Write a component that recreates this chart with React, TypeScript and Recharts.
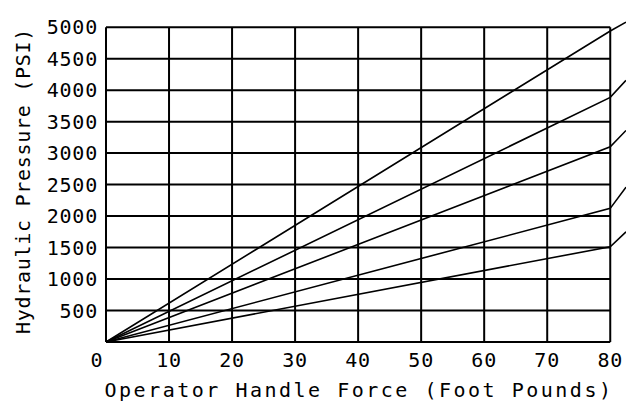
import React from 'react';
import { LineChart, Line, XAxis, YAxis, ReferenceLine } from 'recharts';

// force values where each pressure curve has a point (last one = label leader end)
const forcePoints = [0, 80, 82.5];
const curveA = [0, 4940, 5080];
const curveB = [0, 3885, 4155];
const curveC = [0, 3100, 3360];
const curveD = [0, 2122, 2460];
const curveE = [0, 1513, 1750];

const forceTicks = [0, 10, 20, 30, 40, 50, 60, 70, 80];
const pressureTicks = [500, 1000, 1500, 2000, 2500, 3000, 3500, 4000, 4500, 5000];
const gridRows = [0, ...pressureTicks];

const curveKeys = ['a', 'b', 'c', 'd', 'e'];
const curves = [curveA, curveB, curveC, curveD, curveE];

const data = forcePoints.map((force, i) => {
  const row: Record<string, number> = { force };
  curveKeys.forEach((k, j) => {
    row[k] = curves[j][i];
  });
  return row;
});

const FONT = "'DejaVu Sans Mono', monospace";

const XTick = (props: any) => {
  const { x, y, payload } = props;
  const shift = payload.value === 0 ? -9 : 0;
  return (
    <text
      x={x + shift}
      y={y + 17}
      textAnchor="middle"
      fontFamily={FONT}
      fontSize={20}
      letterSpacing={0.8}
      fill="#000"
    >
      {payload.value}
    </text>
  );
};

const App: React.FC = () => {
  return (
    <div style={{ position: 'absolute', left: 0, top: 0, background: '#fff' }}>
      <LineChart width={626} height={401} data={data} margin={{ top: 2, right: 0, left: 0, bottom: 0 }}>
        <XAxis
          dataKey="force"
          type="number"
          domain={[0, 82.5]}
          ticks={forceTicks}
          axisLine={false}
          tickLine={false}
          height={59}
          tick={<XTick />}
          label={{
            content: (p: any) => {
              const vb = p.viewBox;
              return (
                <text
                  x={vb.x + vb.width / 2 - 7}
                  y={397}
                  textAnchor="middle"
                  fontFamily={FONT}
                  fontSize={20}
                  letterSpacing={2.5}
                  fill="#000"
                >
                  Operator Handle Force (Foot Pounds)
                </text>
              );
            },
          }}
        />
        <YAxis
          type="number"
          domain={[0, 5400]}
          ticks={pressureTicks}
          axisLine={false}
          tickLine={false}
          width={106}
          tick={{ fill: '#000', fontSize: 20, fontFamily: FONT, letterSpacing: 0.8 }}
          label={{
            content: () => (
              <text
                x={30}
                y={181}
                transform="rotate(-90, 30, 181)"
                textAnchor="middle"
                fontFamily={FONT}
                fontSize={20}
                letterSpacing={0.7}
                fill="#000"
              >
                Hydraulic Pressure (PSI)
              </text>
            ),
          }}
        />
        {gridRows.map((v) => (
          <ReferenceLine
            key={'h' + v}
            segment={[
              { x: 0, y: v },
              { x: 80, y: v },
            ]}
            stroke="#000"
            strokeWidth={2}
          />
        ))}
        {forceTicks.map((v) => (
          <ReferenceLine
            key={'v' + v}
            segment={[
              { x: v, y: 0 },
              { x: v, y: 5000 },
            ]}
            stroke="#000"
            strokeWidth={2}
          />
        ))}
        {curveKeys.map((k) => (
          <Line
            key={k}
            type="linear"
            dataKey={k}
            stroke="#000"
            strokeWidth={1.6}
            dot={false}
            isAnimationActive={false}
          />
        ))}
      </LineChart>
    </div>
  );
};

export default App;
